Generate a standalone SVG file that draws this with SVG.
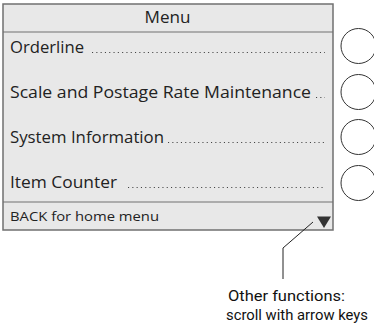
<svg xmlns="http://www.w3.org/2000/svg" width="374" height="330" viewBox="0 0 374 330">
<style>
.t{font-family:"Open Sans","Lato",sans-serif;fill:#222;font-size:16px}
.s{font-size:13.5px}
.m{font-size:15.5px}
.dots{stroke:#444;stroke-width:1.1;stroke-dasharray:1.1 3.2;fill:none}
.key{fill:#fff;stroke:#333;stroke-width:1}
.n{font-family:"Roboto","Liberation Sans",sans-serif;fill:#111;font-size:15.5px}
</style>
<rect width="374" height="330" fill="#fff"/>
<g id="screen">
<rect x="3" y="4" width="330" height="226" fill="#e8e8e8" stroke="#707070" stroke-width="1.5"/>
<line x1="3" y1="32" x2="333" y2="32" stroke="#707070" stroke-width="1.2"/>
<line x1="3" y1="202" x2="333" y2="202" stroke="#707070" stroke-width="1.2"/>
<text class="t m" x="167.5" y="23" text-anchor="middle" textLength="46" lengthAdjust="spacingAndGlyphs">Menu</text>
</g>
<g id="item-orderline">
<text class="t" x="10" y="53" textLength="74" lengthAdjust="spacingAndGlyphs">Orderline</text>
<line class="dots" x1="92" y1="52.5" x2="325" y2="52.5"/>
</g>
<g id="item-scale">
<text class="t" x="10" y="98" textLength="301" lengthAdjust="spacingAndGlyphs">Scale and Postage Rate Maintenance</text>
<line class="dots" x1="316" y1="97.5" x2="325" y2="97.5"/>
</g>
<g id="item-system">
<text class="t" x="10" y="143" textLength="154" lengthAdjust="spacingAndGlyphs">System Information</text>
<line class="dots" x1="168" y1="142.5" x2="325" y2="142.5"/>
</g>
<g id="item-counter">
<text class="t" x="10" y="188" textLength="107" lengthAdjust="spacingAndGlyphs">Item Counter</text>
<line class="dots" x1="128" y1="187.5" x2="325" y2="187.5"/>
</g>
<g id="back">
<text class="t s" x="10" y="221" textLength="149" lengthAdjust="spacingAndGlyphs">BACK for home menu</text>
<polygon points="317,216.5 331,216.5 324,228" fill="#333"/>
</g>
<g id="keys">
<circle class="key" cx="358.5" cy="46" r="17.5"/>
<circle class="key" cx="358.5" cy="92" r="17.5"/>
<circle class="key" cx="358.5" cy="137" r="17.5"/>
<circle class="key" cx="358.5" cy="183" r="17.5"/>
</g>
<g id="connectors">
<polyline points="313,222 283,248 283,279" fill="none" stroke="#222" stroke-width="1"/>
</g>
<g id="note">
<text class="n" x="228" y="301" textLength="117" lengthAdjust="spacingAndGlyphs">Other functions:</text>
<text class="n" x="226" y="320" textLength="142" lengthAdjust="spacingAndGlyphs">scroll with arrow keys</text>
</g>
</svg>
